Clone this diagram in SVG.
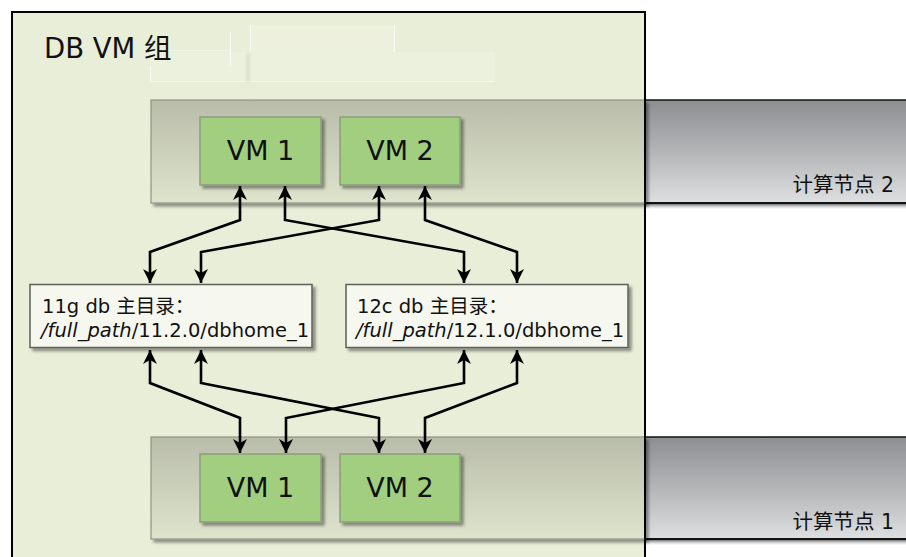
<svg xmlns="http://www.w3.org/2000/svg" width="906" height="557" viewBox="0 0 906 557">
  <defs>
    <style>
      .lbl { font-family: "DejaVu Sans", "Noto Sans CJK SC", sans-serif; fill: #111; }
      .vm { fill: #a1cf7f; stroke: #8d9d7d; stroke-width: 1.5; }
      .band { fill: url(#bandGrad); stroke: #8f9384; stroke-width: 1.2; }
      .host { fill: url(#hostGrad); }
      .home { fill: #f6f7ee; stroke: #5e6058; stroke-width: 1.5; }
      .conn { fill: none; stroke: #000; stroke-width: 2.6; stroke-linejoin: miter; marker-start: url(#head); marker-end: url(#head); }
    </style>
    <linearGradient id="bandGrad" x1="0" y1="0" x2="0" y2="1">
      <stop offset="0" stop-color="#b8bca9"/>
      <stop offset="1" stop-color="#dfe4cd"/>
    </linearGradient>
    <linearGradient id="hostGrad" x1="0" y1="0" x2="0" y2="1">
      <stop offset="0" stop-color="#8d8e91"/>
      <stop offset="0.5" stop-color="#b4b5b7"/>
      <stop offset="1" stop-color="#dedfe1"/>
    </linearGradient>
    <linearGradient id="hostShadow" x1="0" y1="0" x2="0" y2="1">
      <stop offset="0" stop-color="#6f7072"/>
      <stop offset="1" stop-color="#ffffff" stop-opacity="0"/>
    </linearGradient>
    <filter id="shadow" x="-10%" y="-10%" width="130%" height="140%">
      <feDropShadow dx="3" dy="3" stdDeviation="1.6" flood-color="#000" flood-opacity="0.4"/>
    </filter>
    <filter id="soft" x="-10%" y="-30%" width="120%" height="160%">
      <feGaussianBlur stdDeviation="1.5"/>
    </filter>
    <marker id="head" markerUnits="userSpaceOnUse" markerWidth="16" markerHeight="16" viewBox="-15 -8 16 16" refX="0" refY="0" orient="auto-start-reverse">
      <path d="M0,0 L-14,-7 L-10,0 L-14,7 Z" fill="#000"/>
    </marker>
  </defs>

  <rect x="0" y="0" width="906" height="557" fill="#ffffff"/>

  <!-- compute node 2 host strip -->
  <g id="host2">
    <rect x="645" y="100" width="261" height="103" class="host"/>
    <rect x="645" y="204" width="261" height="6" fill="url(#hostShadow)"/>
    <line x1="645" y1="100" x2="906" y2="100" stroke="#111" stroke-width="1.6"/>
    <line x1="645" y1="203" x2="906" y2="203" stroke="#111" stroke-width="2"/>
    <text class="lbl" x="894" y="192" font-size="20.5" text-anchor="end">计算节点 2</text>
  </g>

  <!-- compute node 1 host strip -->
  <g id="host1">
    <rect x="645" y="437" width="261" height="102" class="host"/>
    <rect x="645" y="540" width="261" height="6" fill="url(#hostShadow)"/>
    <line x1="645" y1="437" x2="906" y2="437" stroke="#111" stroke-width="1.6"/>
    <line x1="645" y1="539" x2="906" y2="539" stroke="#111" stroke-width="2"/>
    <text class="lbl" x="894" y="529" font-size="20.5" text-anchor="end">计算节点 1</text>
  </g>

  <!-- DB VM group container -->
  <g id="group">
    <rect x="12" y="12" width="633" height="560" fill="#e9eed8" stroke="#000" stroke-width="2"/>
    <!-- faint residual panels near the title -->
    <g opacity="0.8">
      <rect x="250" y="25" width="145" height="27" fill="#ffffff" fill-opacity="0.15"/>
      <line x1="250.5" y1="25" x2="250.5" y2="52" stroke="#ffffff" stroke-width="1"/>
      <line x1="394.5" y1="25" x2="394.5" y2="52" stroke="#ffffff" stroke-width="1"/>
      <rect x="150" y="52" width="345" height="30" fill="#ffffff" fill-opacity="0.22"/>
      <line x1="150.5" y1="66" x2="150.5" y2="82" stroke="#ffffff" stroke-width="1"/>
      <line x1="150" y1="81.5" x2="495" y2="81.5" stroke="#ffffff" stroke-opacity="0.6" stroke-width="1"/>
      <line x1="150" y1="50.5" x2="230" y2="50.5" stroke="#ffffff" stroke-opacity="0.5" stroke-width="1"/>
      <line x1="230.5" y1="32" x2="230.5" y2="66" stroke="#ffffff" stroke-width="1"/>
      <rect x="246" y="53" width="4" height="29" fill="#c9ceb8" opacity="0.6" filter="url(#soft)"/>
    </g>
    <text class="lbl" x="44" y="58" font-size="27.5">DB VM 组</text>
  </g>

  <!-- compute node bands inside the group -->
  <g id="band2">
    <rect x="151" y="100" width="494" height="103" class="band" filter="url(#shadow)"/>
  </g>
  <g id="band1">
    <rect x="151" y="437" width="494" height="102" class="band" filter="url(#shadow)"/>
  </g>
  <line x1="645" y1="12" x2="645" y2="557" stroke="#000" stroke-width="2"/>

  <!-- virtual machines on compute node 2 -->
  <g id="n2-vm1">
    <rect x="200" y="117" width="121" height="68" class="vm" filter="url(#shadow)"/>
    <text class="lbl" x="260.5" y="160" font-size="27" text-anchor="middle">VM 1</text>
  </g>
  <g id="n2-vm2">
    <rect x="340" y="117" width="120" height="68" class="vm" filter="url(#shadow)"/>
    <text class="lbl" x="400" y="160" font-size="27" text-anchor="middle">VM 2</text>
  </g>

  <!-- virtual machines on compute node 1 -->
  <g id="n1-vm1">
    <rect x="200" y="454" width="121" height="68" class="vm" filter="url(#shadow)"/>
    <text class="lbl" x="260.5" y="497" font-size="27" text-anchor="middle">VM 1</text>
  </g>
  <g id="n1-vm2">
    <rect x="340" y="454" width="120" height="68" class="vm" filter="url(#shadow)"/>
    <text class="lbl" x="400" y="497" font-size="27" text-anchor="middle">VM 2</text>
  </g>

  <!-- Oracle homes -->
  <g id="home11g">
    <rect x="30" y="284.5" width="282" height="63" class="home" filter="url(#shadow)"/>
    <text class="lbl" x="42" y="313" font-size="19.5">11g db 主目录：</text>
    <text class="lbl" x="41" y="337" font-size="19.5"><tspan font-style="italic">/full_path</tspan>/11.2.0/dbhome_1</text>
  </g>
  <g id="home12c">
    <rect x="346" y="284.5" width="282" height="63" class="home" filter="url(#shadow)"/>
    <text class="lbl" x="357" y="313" font-size="19.5">12c db 主目录：</text>
    <text class="lbl" x="356" y="337" font-size="19.5"><tspan font-style="italic">/full_path</tspan>/12.1.0/dbhome_1</text>
  </g>

  <!-- connectors -->
  <g id="connectors">
    <polyline class="conn" points="240,186 240,220 150,252 150,283"/>
    <polyline class="conn" points="285,186 285,220 464,252 464,283"/>
    <polyline class="conn" points="379,186 379,220 201,252 201,283"/>
    <polyline class="conn" points="425,186 425,220 517,252 517,283"/>
    <polyline class="conn" points="150,350 150,383 240,418 240,453"/>
    <polyline class="conn" points="201,350 201,383 379,418 379,453"/>
    <polyline class="conn" points="464,350 464,383 286,418 286,453"/>
    <polyline class="conn" points="517,350 517,383 425,418 425,453"/>
  </g>
</svg>
